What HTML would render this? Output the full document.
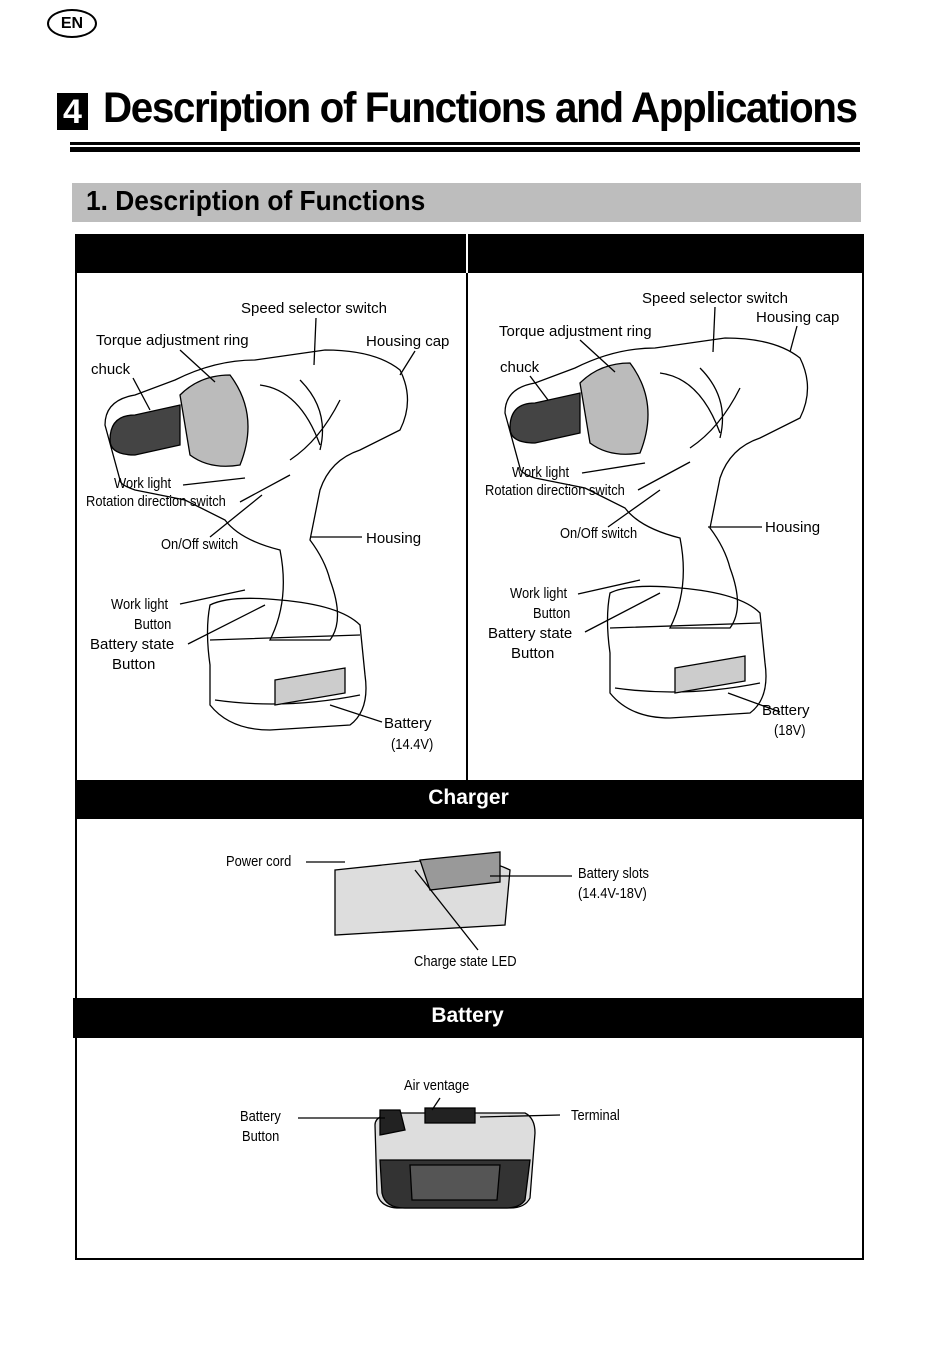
<!DOCTYPE html>
<html><head><meta charset="utf-8"><style>
body{margin:0;background:#fff;width:950px;height:1364px;position:relative;overflow:hidden;font-family:"Liberation Sans",sans-serif;color:#000}
.a{position:absolute}
.l{position:absolute;font-size:15px;white-space:nowrap}
.n{position:absolute;font-size:15px;white-space:nowrap;transform:scaleX(.86);transform-origin:left}
</style></head><body>
<div class="a" style="left:47px;top:9px;width:46px;height:25px;border:2px solid #000;border-radius:50%;font-weight:bold;font-size:16px;text-align:center;line-height:25px">EN</div>
<div class="a" style="left:57px;top:93px;width:31px;height:37px;background:#000;color:#fff;font-weight:bold;font-size:34px;text-align:center;line-height:38px">4</div>
<div class="a" style="left:103px;top:84px;font-weight:bold;font-size:43px;letter-spacing:-1.5px;white-space:nowrap;transform:scaleX(.94);transform-origin:left">Description of Functions and Applications</div>
<div class="a" style="left:70px;top:142px;width:790px;height:3px;background:#000"></div>
<div class="a" style="left:70px;top:147px;width:790px;height:5px;background:#000"></div>
<div class="a" style="left:72px;top:183px;width:789px;height:39px;background:#bdbdbd"></div>
<div class="a" style="left:86px;top:185px;font-weight:bold;font-size:28px;white-space:nowrap;transform:scaleX(.94);transform-origin:left">1. Description of Functions</div>
<div class="a" style="left:75px;top:234px;width:785px;height:1022px;border:2px solid #000"></div>
<div class="a" style="left:75px;top:234px;width:787px;height:39px;background:#000"></div>
<div class="a" style="left:466px;top:234px;width:2px;height:546px;background:#000"></div>
<div class="a" style="left:466px;top:234px;width:2px;height:39px;background:#fff"></div>
<div class="a" style="left:75px;top:780px;width:787px;height:39px;background:#000;color:#fff;font-weight:bold;font-size:21px;text-align:center;line-height:35px">Charger</div>
<div class="a" style="left:73px;top:998px;width:789px;height:40px;background:#000;color:#fff;font-weight:bold;font-size:21px;text-align:center;line-height:35px">Battery</div>

<svg class="a" style="left:0;top:0" width="950" height="1364" fill="none" stroke="#000" stroke-width="1.3">
<g id="d">
<path d="M105 425 q0-25 30-30 l40-15 q40-20 80-20 l70-10 q50 0 75 20 q15 30 0 60 l-40 20 q-30 10-40 40 l-10 50 q15 20 20 40 q15 40 0 60 q-30 0-60 0 q20-40 10-90 q-40-10-55-30 l-40-20 l-50-10 q-15-5-15-10 z"/>
<path d="M110 440 q0-25 25-25 l45-10 0 40 -45 10 q-25 0-25-15z" fill="#444"/>
<path d="M180 395 q20-20 50-20 q30 40 10 90 q-30 5-50-10z" fill="#bbb"/>
<path d="M210 605 q-5 25 0 60 l0 40 q20 25 60 25 l80-5 q20-15 15-50 l-5-50 q-20-20-80-25 q-50-5-70 5z"/>
<path d="M210 640 l150-5 M215 700 q70 10 145-5" />
<path d="M275 680 l70-12 0 25 -70 12z" fill="#ccc"/>
<path d="M300 380 q30 30 20 70 M260 385 q40 5 60 60 M340 400 q-20 40-50 60" />
</g>
<use href="#d" x="400" y="-12"/>
<line x1="316" y1="318" x2="314" y2="365"/>
<line x1="180" y1="350" x2="215" y2="382"/>
<line x1="415" y1="351" x2="400" y2="375"/>
<line x1="133" y1="378" x2="150" y2="410"/>
<line x1="183" y1="485" x2="245" y2="478"/>
<line x1="240" y1="502" x2="290" y2="475"/>
<line x1="210" y1="537" x2="262" y2="495"/>
<line x1="310" y1="537" x2="362" y2="537"/>
<line x1="180" y1="604" x2="245" y2="590"/>
<line x1="188" y1="644" x2="265" y2="605"/>
<line x1="330" y1="705" x2="382" y2="722"/>
<line x1="715" y1="307" x2="713" y2="352"/>
<line x1="580" y1="340" x2="615" y2="372"/>
<line x1="797" y1="326" x2="790" y2="352"/>
<line x1="530" y1="376" x2="548" y2="400"/>
<line x1="582" y1="473" x2="645" y2="463"/>
<line x1="638" y1="490" x2="690" y2="462"/>
<line x1="608" y1="527" x2="660" y2="490"/>
<line x1="708" y1="527" x2="762" y2="527"/>
<line x1="578" y1="594" x2="640" y2="580"/>
<line x1="585" y1="632" x2="660" y2="593"/>
<line x1="728" y1="693" x2="780" y2="712"/>
<path d="M335 870 l95-10 q50-5 80 10 l-5 55 -170 10z" fill="#ddd"/>
<path d="M420 860 l80-8 0 30 -70 8z" fill="#999"/>
<line x1="306" y1="862" x2="345" y2="862"/>
<line x1="490" y1="876" x2="572" y2="876"/>
<line x1="415" y1="870" x2="478" y2="950"/>
<path d="M375 1125 q0-10 20-12 l130 0 q10 5 10 20 l-5 65 q-5 10-20 10 l-110 0 q-20 0-23-15z" fill="#ddd"/>
<path d="M380 1160 l150 0 -5 40 q-5 8-20 8 l-100 0 q-20 0-23-15z" fill="#333"/>
<path d="M410 1165 l90 0 -3 35 -85 0z" fill="#555"/>
<path d="M380 1110 l20 0 5 20 -25 5z M425 1108 l50 0 0 15 -50 0z" fill="#222"/>
<line x1="298" y1="1118" x2="385" y2="1118"/>
<line x1="440" y1="1098" x2="432" y2="1110"/>
<line x1="480" y1="1117" x2="560" y2="1115"/>
</svg>

<div class="l" style="left:241px;top:300px">Speed selector switch</div>
<div class="l" style="left:96px;top:332px">Torque adjustment ring</div>
<div class="l" style="left:366px;top:333px">Housing cap</div>
<div class="l" style="left:91px;top:361px">chuck</div>
<div class="n" style="left:114px;top:475px">Work light</div>
<div class="n" style="left:86px;top:493px">Rotation direction switch</div>
<div class="n" style="left:161px;top:536px">On/Off switch</div>
<div class="l" style="left:366px;top:530px">Housing</div>
<div class="n" style="left:111px;top:596px">Work light</div>
<div class="n" style="left:134px;top:616px">Button</div>
<div class="l" style="left:90px;top:636px">Battery state</div>
<div class="l" style="left:112px;top:656px">Button</div>
<div class="l" style="left:384px;top:715px">Battery</div>
<div class="n" style="left:391px;top:736px">(14.4V)</div>

<div class="l" style="left:642px;top:290px">Speed selector switch</div>
<div class="l" style="left:756px;top:309px">Housing cap</div>
<div class="l" style="left:499px;top:323px">Torque adjustment ring</div>
<div class="l" style="left:500px;top:359px">chuck</div>
<div class="n" style="left:512px;top:464px">Work light</div>
<div class="n" style="left:485px;top:482px">Rotation direction switch</div>
<div class="n" style="left:560px;top:525px">On/Off switch</div>
<div class="l" style="left:765px;top:519px">Housing</div>
<div class="n" style="left:510px;top:585px">Work light</div>
<div class="n" style="left:533px;top:605px">Button</div>
<div class="l" style="left:488px;top:625px">Battery state</div>
<div class="l" style="left:511px;top:645px">Button</div>
<div class="l" style="left:762px;top:702px">Battery</div>
<div class="n" style="left:774px;top:722px">(18V)</div>

<div class="n" style="left:226px;top:853px">Power cord</div>
<div class="n" style="left:578px;top:865px">Battery slots</div>
<div class="n" style="left:578px;top:885px">(14.4V-18V)</div>
<div class="n" style="left:414px;top:953px">Charge state LED</div>
<div class="n" style="left:404px;top:1077px">Air ventage</div>
<div class="n" style="left:240px;top:1108px">Battery</div>
<div class="n" style="left:242px;top:1128px">Button</div>
<div class="n" style="left:571px;top:1107px">Terminal</div>
</body></html>
